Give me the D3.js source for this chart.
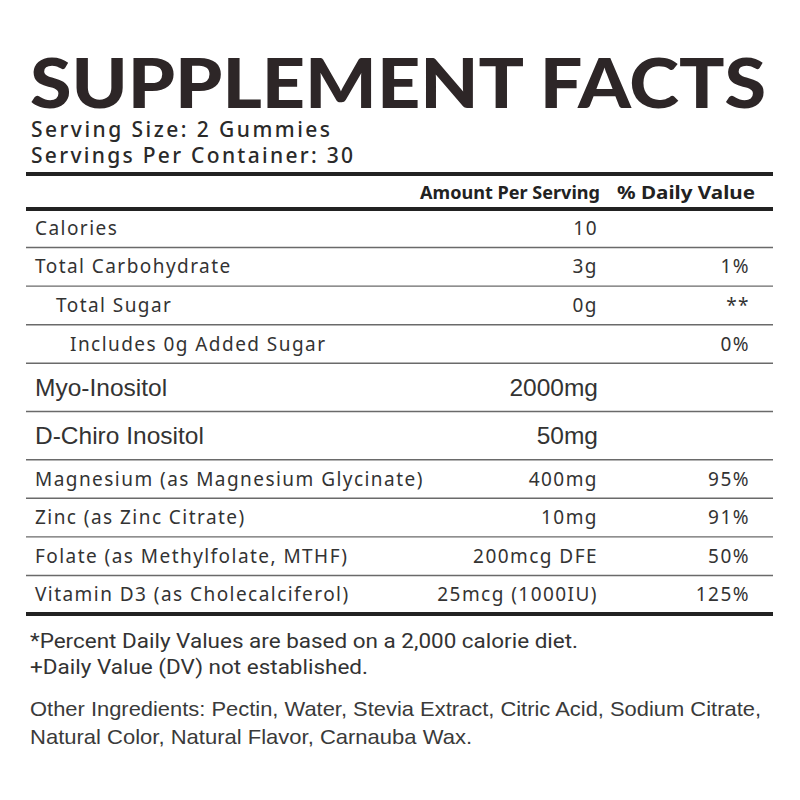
<html>
<script src="https://d3js.org/d3.v7.min.js"></script>
<style>
body { margin: 0; background: #fff; }
text { fill: #333; }
</style>
<body>
<svg width="800" height="800"></svg>
<script>
// label content
const title = "SUPPLEMENT FACTS";
const servingInfo = ["Serving Size: 2 Gummies", "Servings Per Container: 30"];
const columnHeads = ["Amount Per Serving", "% Daily Value"];
const nutrients = ["Calories", "Total Carbohydrate", "Total Sugar", "Includes 0g Added Sugar",
  "Myo-Inositol", "D-Chiro Inositol", "Magnesium (as Magnesium Glycinate)",
  "Zinc (as Zinc Citrate)", "Folate (as Methylfolate, MTHF)", "Vitamin D3 (as Cholecalciferol)"];
const amounts = ["10", "3g", "0g", "", "2000mg", "50mg", "400mg", "10mg", "200mcg DFE", "25mcg (1000IU)"];
const dailyValues = ["", "1%", "**", "0%", "", "", "95%", "91%", "50%", "125%"];
const levels = [0, 0, 1, 2, 0, 0, 0, 0, 0, 0];
const footnotes = ["*Percent Daily Values are based on a 2,000 calorie diet.",
  "+Daily Value (DV) not established."];
const otherIngredients = ["Other Ingredients: Pectin, Water, Stevia Extract, Citric Acid, Sodium Citrate,",
  "Natural Color, Natural Flavor, Carnauba Wax."];

const featured = new Set(["Myo-Inositol", "D-Chiro Inositol"]);
const left = 26, right = 773;
const svg = d3.select("svg");

// title
svg.append("text")
  .attr("x", 30).attr("y", 108)
  .attr("textLength", 736).attr("lengthAdjust", "spacingAndGlyphs")
  .style("font-family", "Lato, 'Open Sans', sans-serif")
  .style("font-weight", 900).style("font-size", "68px")
  .style("fill", "#2d2627")
  .text(title);

const servingWidths = [299, 322];
svg.selectAll("text.serving")
  .data(servingInfo)
  .enter().append("text")
  .attr("class", "serving")
  .attr("x", 31)
  .attr("y", (d, i) => 137 + i * 26)
  .attr("textLength", (d, i) => servingWidths[i]).attr("lengthAdjust", "spacing")
  .style("font-family", "'Noto Sans', sans-serif")
  .style("font-weight", 500).style("font-size", "21px")
  .style("fill", "#2a2a2a")
  .text(d => d);

// row scale: featured rows are a bit taller
const weights = nutrients.map(n => featured.has(n) ? 1.25 : 1);
const bounds = [0];
weights.forEach(w => bounds.push(bounds[bounds.length - 1] + w));
const y = d3.scaleLinear().domain([0, bounds[bounds.length - 1]]).range([209, 614]);

// column header
const headEnds = [600, 755], headWidths = [180, 138];
svg.selectAll("text.head")
  .data(columnHeads)
  .enter().append("text")
  .attr("class", "head")
  .attr("x", (d, i) => headEnds[i] - headWidths[i]).attr("y", 199)
  .attr("textLength", (d, i) => headWidths[i]).attr("lengthAdjust", "spacingAndGlyphs")
  .style("font-family", "'Noto Sans', sans-serif")
  .style("font-weight", 700).style("font-size", "18.5px")
  .style("fill", "#222")
  .text(d => d);

// thin separators
svg.selectAll("line.sep")
  .data(bounds.slice(1, -1))
  .enter().append("line")
  .attr("class", "sep")
  .attr("x1", left).attr("x2", right)
  .attr("y1", d => y(d)).attr("y2", d => y(d))
  .attr("stroke", "#6a6a6a").attr("stroke-width", 1.4);

// thick rules
svg.selectAll("line.thick")
  .data([174, y(0), y(bounds[bounds.length - 1])])
  .enter().append("line")
  .attr("class", "thick")
  .attr("x1", left).attr("x2", right)
  .attr("y1", d => d).attr("y2", d => d)
  .attr("stroke", "#222").attr("stroke-width", 4);

const rows = svg.selectAll("g.row")
  .data(nutrients.map((n, i) => ({ name: n, amount: amounts[i], dv: dailyValues[i], level: levels[i], i })))
  .enter().append("g")
  .attr("class", "row")
  .attr("transform", d => {
    const mid = (y(bounds[d.i]) + y(bounds[d.i + 1])) / 2;
    return "translate(0," + (mid + (featured.has(d.name) ? 8.5 : 6.5)) + ")";
  });

const bodyFont = d => featured.has(d.name) ? "'Liberation Sans', Arial, sans-serif" : "'Noto Sans', sans-serif";
const bodySize = d => featured.has(d.name) ? "24.5px" : "19px";
const bodySpacing = d => featured.has(d.name) ? "0px" : "1.45px";

rows.append("text")
  .attr("x", d => [35, 56, 70][d.level])
  .style("font-family", bodyFont).style("font-size", bodySize)
  .style("letter-spacing", bodySpacing)
  .text(d => d.name);

rows.append("text")
  .attr("x", 598).attr("text-anchor", "end")
  .style("font-family", bodyFont).style("font-size", bodySize)
  .style("letter-spacing", bodySpacing)
  .text(d => d.amount);

rows.append("text")
  .attr("x", 750).attr("text-anchor", "end")
  .style("font-family", bodyFont).style("font-size", bodySize)
  .style("letter-spacing", bodySpacing)
  .text(d => d.dv);

// footnotes
const footWidths = [548, 338];
svg.selectAll("text.foot")
  .data(footnotes)
  .enter().append("text")
  .attr("class", "foot")
  .attr("x", 30).attr("y", (d, i) => 648 + i * 26)
  .attr("textLength", (d, i) => footWidths[i]).attr("lengthAdjust", "spacingAndGlyphs")
  .style("font-family", "Roboto, sans-serif").style("font-size", "19.5px")
  .text(d => d);

const otherWidths = [731, 442];
svg.selectAll("text.other")
  .data(otherIngredients)
  .enter().append("text")
  .attr("class", "other")
  .attr("x", 30).attr("y", (d, i) => 716 + i * 28)
  .attr("textLength", (d, i) => otherWidths[i]).attr("lengthAdjust", "spacingAndGlyphs")
  .style("font-family", "'Liberation Sans', Arial, sans-serif").style("font-size", "21px")
  .style("fill", "#3a3a3a")
  .text(d => d);
</script>
</body>
</html>
